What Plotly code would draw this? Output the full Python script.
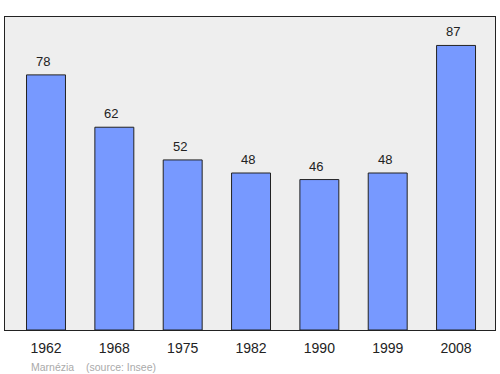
import plotly.graph_objects as go

years = ["1962", "1968", "1975", "1982", "1990", "1999", "2008"]
population = [78, 62, 52, 48, 46, 48, 87]
commune = "Marnézia"
source = "(source: Insee)"

xs = list(range(len(years)))

fig = go.Figure()
fig.add_trace(go.Bar(
    x=xs, y=population, width=0.57,
    marker=dict(color="#7799ff", line=dict(color="#222222", width=1)),
    hoverinfo="skip",
))
for x, v in zip(xs, population):
    fig.add_annotation(x=x, y=v, text=str(v), showarrow=False, yanchor="bottom",
                       yshift=4, xshift=-3,
                       font=dict(family="Liberation Sans, Arial", size=13, color="#222222"))

fig.add_annotation(xref="paper", yref="paper", x=0.049, y=-0.118, text=commune,
                   showarrow=False, xanchor="left", yanchor="middle",
                   font=dict(family="Liberation Sans, Arial", size=10.5, color="#aaaaaa"))
fig.add_annotation(xref="paper", yref="paper", x=0.161, y=-0.118, text=source,
                   showarrow=False, xanchor="left", yanchor="middle",
                   font=dict(family="Liberation Sans, Arial", size=10.5, color="#aaaaaa"))

fig.update_layout(
    width=500, height=374,
    margin=dict(l=5, r=5, t=17, b=44),
    paper_bgcolor="white", plot_bgcolor="#eeeeee",
    showlegend=False,
    xaxis=dict(range=[-0.6, 6.57], tickvals=xs, ticktext=years, showgrid=False, zeroline=False,
               showline=True, linecolor="#222222", linewidth=1, mirror=True, ticks="",
               ticklabelstandoff=5,
               tickfont=dict(family="Liberation Sans, Arial", size=14, color="#222222")),
    yaxis=dict(range=[0, 95.7], showticklabels=False, showgrid=False, zeroline=False,
               showline=True, linecolor="#222222", linewidth=1, mirror=True, ticks=""),
)
fig.write_html("out.html")
